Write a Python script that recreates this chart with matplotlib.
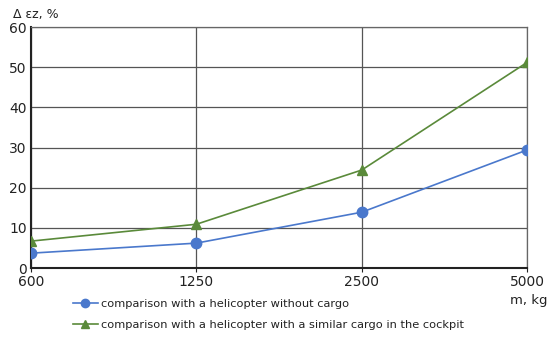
import matplotlib
matplotlib.use("Agg")
import matplotlib.pyplot as plt

# ------------------------------
# Data
# ------------------------------
mass_labels = ["600", "1250", "2500", "5000"]
no_cargo = [3.7, 6.2, 13.9, 29.4]
similar_cargo = [6.7, 10.9, 24.4, 51.2]

blue = "#4a78cc"
green = "#5a8a3a"

fig = plt.figure(figsize=(5.5, 3.38), dpi=100)
ax = fig.add_axes([0.0564, 0.207, 0.902, 0.713])

x = list(range(len(mass_labels)))
ax.plot(x, no_cargo, color=blue, marker="o", markersize=7.5, linewidth=1.2,
        label="comparison with a helicopter without cargo", zorder=3)
ax.plot(x, similar_cargo, color=green, marker="^", markersize=7.5, linewidth=1.2,
        label="comparison with a helicopter with a similar cargo in the cockpit", zorder=3)

ax.set_xlim(0, 3)
ax.set_ylim(0, 60)
ax.set_xticks(x)
ax.set_xticklabels(mass_labels)
ax.set_yticks(range(0, 61, 10))
ax.grid(True, color="#555555", linewidth=0.9)
ax.tick_params(labelsize=10, length=3, colors="#222222", pad=2)
ax.tick_params(axis="y", length=0, pad=3)
for s in ["top", "right"]:
    ax.spines[s].set_color("#666666")
    ax.spines[s].set_linewidth(0.9)
for s in ["left", "bottom"]:
    ax.spines[s].set_color("#222222")
    ax.spines[s].set_linewidth(1.5)

fig.text(0.024, 0.975, "Δ εz, %", fontsize=9, va="top", ha="left", color="#222222")
fig.text(0.962, 0.112, "m, kg", fontsize=9.5, va="center", ha="center", color="#222222")

leg = ax.legend(loc="upper left", bbox_to_anchor=(0.075, -0.11), frameon=False,
                fontsize=8.2, handlelength=2.2, handletextpad=0.3, labelspacing=0.95,
                borderaxespad=0, markerscale=0.8)
for t in leg.get_texts():
    t.set_color("#222222")

fig.savefig("out.png", dpi=100)
